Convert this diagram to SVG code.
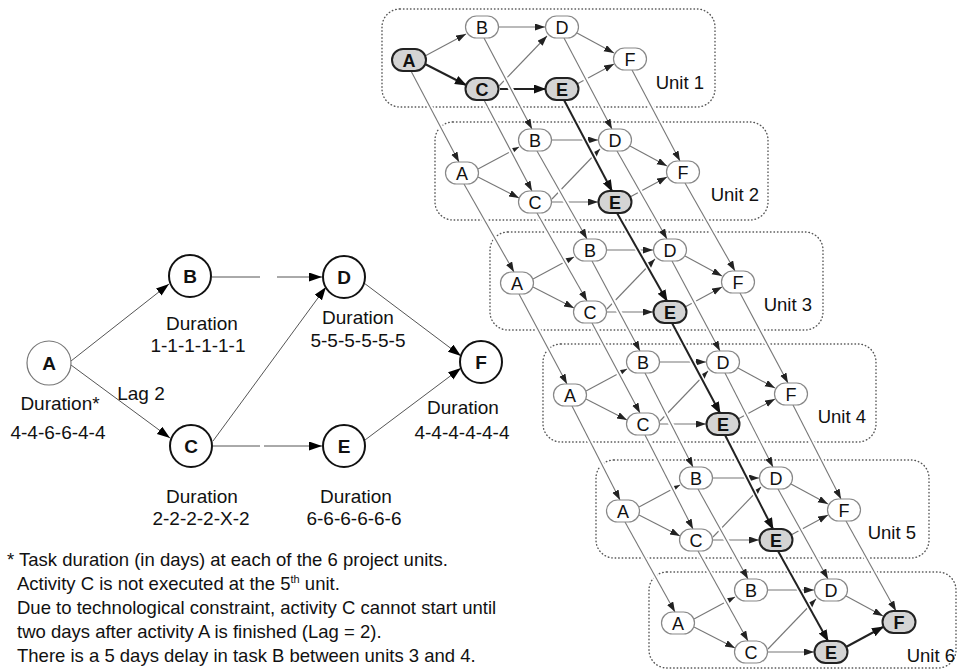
<svg xmlns="http://www.w3.org/2000/svg" width="959" height="670" viewBox="0 0 959 670">
<style>
text{font-family:"Liberation Sans",Arial,sans-serif;fill:#111}
.lbl{font-size:19px;text-anchor:middle}
.big{font-size:19px;font-weight:bold;text-anchor:middle}
.fn{font-size:18.5px}
.ut{font-size:18.5px;text-anchor:end}
.nt{font-size:18px;text-anchor:middle}
.ntb{font-size:18px;font-weight:bold;text-anchor:middle}
.circ{fill:#fff;stroke:#111;stroke-width:2}
.circA{fill:#fff;stroke:#777;stroke-width:1.2}
.le{fill:none;stroke:#555;stroke-width:1}
.lea{fill:none;stroke:#555;stroke-width:1;marker-end:url(#bigArrow)}
.box{fill:none;stroke:#555;stroke-width:1.4;stroke-dasharray:0.5 3;stroke-linecap:round}
.pill{fill:#fff;stroke:#888;stroke-width:1.2}
.crit{fill:#d4d4d4;stroke:#222;stroke-width:2}
.e{fill:none;stroke:#777;stroke-width:1.1;marker-end:url(#ah)}
.ec{fill:none;stroke:#222;stroke-width:2;marker-end:url(#ahk)}
.halo{fill:none;stroke:#fff;stroke-width:5}
</style>
<defs>
<marker id="ah" markerUnits="userSpaceOnUse" markerWidth="11" markerHeight="8" refX="10" refY="3.5" orient="auto"><path d="M0,0 L10,3.5 L0,7 z" fill="#222"/></marker>
<marker id="ahk" markerUnits="userSpaceOnUse" markerWidth="13" markerHeight="10" refX="11" refY="4.5" orient="auto"><path d="M0,0 L12,4.5 L0,9 z" fill="#111"/></marker>
<marker id="bigArrow" markerUnits="userSpaceOnUse" markerWidth="14" markerHeight="10" refX="13" refY="4.5" orient="auto"><path d="M0,0 L13,4.5 L0,9 z" fill="#000"/></marker>
</defs>
<rect width="959" height="670" fill="#fff"/>

<!-- ===== Left network ===== -->
<g id="left-connectors">
<line class="lea" x1="71" y1="361" x2="169" y2="284"/>
<line class="lea" x1="71" y1="365" x2="170" y2="438"/>
<line class="le" x1="212" y1="277" x2="260" y2="277"/>
<line class="lea" x1="277" y1="277" x2="322" y2="277"/>
<line class="lea" x1="213" y1="441" x2="326" y2="287"/>
<line class="le" x1="213" y1="446" x2="260" y2="446"/>
<line class="lea" x1="264" y1="446" x2="322" y2="446"/>
<line class="lea" x1="364" y1="283" x2="461" y2="356"/>
<line class="lea" x1="365" y1="440" x2="461" y2="368"/>
</g>
<g id="L-A"><circle class="circA" cx="49" cy="363" r="22"/><text class="big" x="49" y="370">A</text></g>
<g id="L-B"><circle class="circ" cx="190" cy="276" r="21"/><text class="big" x="190" y="283">B</text></g>
<g id="L-C"><circle class="circ" cx="191" cy="446" r="21"/><text class="big" x="191" y="453">C</text></g>
<g id="L-D"><circle class="circ" cx="344" cy="277" r="21"/><text class="big" x="344" y="284">D</text></g>
<g id="L-E"><circle class="circ" cx="344" cy="446" r="21"/><text class="big" x="344" y="453">E</text></g>
<g id="L-F"><circle class="circ" cx="481" cy="362" r="21"/><text class="big" x="481" y="369">F</text></g>

<g id="left-labels">
<text class="lbl" x="60" y="410">Duration*</text>
<text class="lbl" x="58" y="439">4-4-6-6-4-4</text>
<text class="lbl" x="141" y="400">Lag 2</text>
<text class="lbl" x="202" y="330">Duration</text>
<text class="lbl" x="198" y="352">1-1-1-1-1-1</text>
<text class="lbl" x="358" y="324">Duration</text>
<text class="lbl" x="358" y="347">5-5-5-5-5-5</text>
<text class="lbl" x="463" y="414">Duration</text>
<text class="lbl" x="462" y="439">4-4-4-4-4-4</text>
<text class="lbl" x="202" y="503">Duration</text>
<text class="lbl" x="201" y="525">2-2-2-2-X-2</text>
<text class="lbl" x="356" y="503">Duration</text>
<text class="lbl" x="354" y="525">6-6-6-6-6-6</text>
</g>

<g id="footnote">
<text class="fn" x="7" y="566">* Task duration (in days) at each of the 6 project units.</text>
<text class="fn" x="17" y="590">Activity C is not executed at the 5<tspan font-size="11" dy="-7">th</tspan><tspan dy="7"> unit.</tspan></text>
<text class="fn" x="17" y="614">Due to technological constraint, activity C cannot start until</text>
<text class="fn" x="17" y="638">two days after activity A is finished (Lag = 2).</text>
<text class="fn" x="17" y="662">There is a 5 days delay in task B between units 3 and 4.</text>
</g>

<!-- ===== Unit boxes ===== -->
<g id="unit-boxes">
<rect class="box" x="382" y="9" width="333" height="98" rx="18"/>
<rect class="box" x="435" y="122" width="333" height="98" rx="18"/>
<rect class="box" x="490" y="232" width="333" height="98" rx="18"/>
<rect class="box" x="543" y="344" width="333" height="98" rx="18"/>
<rect class="box" x="596" y="460" width="333" height="98" rx="18"/>
<rect class="box" x="649" y="572" width="307" height="96" rx="18"/>
</g>
<g id="unit-labels">
<text class="ut" x="704" y="89">Unit 1</text>
<text class="ut" x="759" y="201">Unit 2</text>
<text class="ut" x="812" y="311">Unit 3</text>
<text class="ut" x="866" y="423">Unit 4</text>
<text class="ut" x="916" y="539">Unit 5</text>
<text class="ut" x="955" y="662">Unit 6</text>
</g>

<!-- ===== Connectors ===== -->
<g id="connectors">
<g transform="translate(409,60)">
<line class="e" x1="16" y1="-4" x2="57" y2="-26"/>
<line class="ec" x1="16" y1="4" x2="57" y2="25"/>
<line class="e" x1="90" y1="-33" x2="136" y2="-33"/>
<line class="e" x1="90" y1="26" x2="138" y2="-24"/>
<line class="ec" x1="91" y1="29" x2="136" y2="29"/>
<line class="e" x1="168" y1="-27" x2="205" y2="-7"/>
<line class="e" x1="168" y1="24" x2="205" y2="4"/>
</g>
<g transform="translate(462,173)">
<line class="e" x1="16" y1="-4" x2="57" y2="-26"/>
<line class="e" x1="16" y1="4" x2="57" y2="25"/>
<line class="e" x1="90" y1="-33" x2="136" y2="-33"/>
<line class="e" x1="90" y1="26" x2="138" y2="-24"/>
<line class="e" x1="90" y1="29" x2="136" y2="29"/>
<line class="e" x1="168" y1="-27" x2="205" y2="-7"/>
<line class="e" x1="168" y1="24" x2="205" y2="4"/>
</g>
<g transform="translate(517,283)">
<line class="e" x1="16" y1="-4" x2="57" y2="-26"/>
<line class="e" x1="16" y1="4" x2="57" y2="25"/>
<line class="e" x1="90" y1="-33" x2="136" y2="-33"/>
<line class="e" x1="90" y1="26" x2="138" y2="-24"/>
<line class="e" x1="90" y1="29" x2="136" y2="29"/>
<line class="e" x1="168" y1="-27" x2="205" y2="-7"/>
<line class="e" x1="168" y1="24" x2="205" y2="4"/>
</g>
<g transform="translate(570,395)">
<line class="e" x1="16" y1="-4" x2="57" y2="-26"/>
<line class="e" x1="16" y1="4" x2="57" y2="25"/>
<line class="e" x1="90" y1="-33" x2="136" y2="-33"/>
<line class="e" x1="90" y1="26" x2="138" y2="-24"/>
<line class="e" x1="90" y1="29" x2="136" y2="29"/>
<line class="e" x1="168" y1="-27" x2="205" y2="-7"/>
<line class="e" x1="168" y1="24" x2="205" y2="4"/>
</g>
<g transform="translate(623,511)">
<line class="e" x1="16" y1="-4" x2="57" y2="-26"/>
<line class="e" x1="16" y1="4" x2="57" y2="25"/>
<line class="e" x1="90" y1="-33" x2="136" y2="-33"/>
<line class="e" x1="90" y1="26" x2="138" y2="-24"/>
<line class="e" x1="90" y1="29" x2="136" y2="29"/>
<line class="e" x1="168" y1="-27" x2="205" y2="-7"/>
<line class="e" x1="168" y1="24" x2="205" y2="4"/>
</g>
<g transform="translate(678,623)">
<line class="e" x1="16" y1="-4" x2="57" y2="-26"/>
<line class="e" x1="16" y1="4" x2="57" y2="25"/>
<line class="e" x1="90" y1="-33" x2="136" y2="-33"/>
<line class="e" x1="90" y1="26" x2="138" y2="-24"/>
<line class="e" x1="90" y1="29" x2="136" y2="29"/>
<line class="e" x1="168" y1="-27" x2="205" y2="-7"/>
<line class="ec" x1="168" y1="24" x2="205" y2="4"/>
</g>
<!-- inter-unit links: halos -->
<g class="halo">
<line x1="411" y1="71" x2="459" y2="162"/><line x1="464" y1="184" x2="514" y2="272"/><line x1="519" y1="294" x2="567" y2="384"/><line x1="572" y1="406" x2="620" y2="500"/><line x1="625" y1="522" x2="675" y2="612"/>
<line x1="484" y1="38" x2="532" y2="129"/><line x1="537" y1="151" x2="587" y2="239"/><line x1="592" y1="261" x2="640" y2="351"/><line x1="645" y1="373" x2="693" y2="467"/><line x1="698" y1="489" x2="748" y2="579"/>
<line x1="484" y1="100" x2="532" y2="191"/><line x1="537" y1="213" x2="587" y2="301"/><line x1="592" y1="323" x2="640" y2="413"/><line x1="645" y1="435" x2="693" y2="529"/><line x1="698" y1="551" x2="748" y2="641"/>
<line x1="564" y1="38" x2="612" y2="129"/><line x1="617" y1="151" x2="667" y2="239"/><line x1="672" y1="261" x2="720" y2="351"/><line x1="725" y1="373" x2="773" y2="467"/><line x1="778" y1="489" x2="828" y2="579"/>
<line x1="564" y1="100" x2="612" y2="191"/><line x1="617" y1="213" x2="667" y2="301"/><line x1="672" y1="323" x2="720" y2="413"/><line x1="725" y1="435" x2="773" y2="529"/><line x1="778" y1="551" x2="828" y2="641"/>
<line x1="632" y1="70" x2="680" y2="161"/><line x1="685" y1="183" x2="735" y2="271"/><line x1="740" y1="293" x2="788" y2="383"/><line x1="793" y1="405" x2="841" y2="499"/><line x1="846" y1="521" x2="896" y2="611"/>
</g>
<!-- inter-unit links -->
<line class="e" x1="411" y1="71" x2="459" y2="162"/><line class="e" x1="464" y1="184" x2="514" y2="272"/><line class="e" x1="519" y1="294" x2="567" y2="384"/><line class="e" x1="572" y1="406" x2="620" y2="500"/><line class="e" x1="625" y1="522" x2="675" y2="612"/>
<line class="e" x1="484" y1="38" x2="532" y2="129"/><line class="e" x1="537" y1="151" x2="587" y2="239"/><line class="e" x1="592" y1="261" x2="640" y2="351"/><line class="e" x1="645" y1="373" x2="693" y2="467"/><line class="e" x1="698" y1="489" x2="748" y2="579"/>
<line class="e" x1="484" y1="100" x2="532" y2="191"/><line class="e" x1="537" y1="213" x2="587" y2="301"/><line class="e" x1="592" y1="323" x2="640" y2="413"/><line class="e" x1="645" y1="435" x2="693" y2="529"/><line class="e" x1="698" y1="551" x2="748" y2="641"/>
<line class="e" x1="564" y1="38" x2="612" y2="129"/><line class="e" x1="617" y1="151" x2="667" y2="239"/><line class="e" x1="672" y1="261" x2="720" y2="351"/><line class="e" x1="725" y1="373" x2="773" y2="467"/><line class="e" x1="778" y1="489" x2="828" y2="579"/>
<line class="ec" x1="564" y1="100" x2="612" y2="191"/><line class="ec" x1="617" y1="213" x2="667" y2="301"/><line class="ec" x1="672" y1="323" x2="720" y2="413"/><line class="ec" x1="725" y1="435" x2="773" y2="529"/><line class="ec" x1="778" y1="551" x2="828" y2="641"/>
<line class="e" x1="632" y1="70" x2="680" y2="161"/><line class="e" x1="685" y1="183" x2="735" y2="271"/><line class="e" x1="740" y1="293" x2="788" y2="383"/><line class="e" x1="793" y1="405" x2="841" y2="499"/><line class="e" x1="846" y1="521" x2="896" y2="611"/>
</g>

<!-- ===== Unit nodes ===== -->
<g id="unit1">
<g id="u1-A" transform="translate(409,60)"><rect class="crit" x="-17" y="-11" width="34" height="22" rx="11"/><text class="ntb" y="6.5">A</text></g>
<g id="u1-B" transform="translate(482,27)"><rect class="pill" x="-16.5" y="-11" width="33" height="22" rx="11"/><text class="nt" y="6.5">B</text></g>
<g id="u1-C" transform="translate(482,89)"><rect class="crit" x="-16.5" y="-11" width="33" height="22" rx="11"/><text class="ntb" y="6.5">C</text></g>
<g id="u1-D" transform="translate(562,27)"><rect class="pill" x="-16.5" y="-11" width="33" height="22" rx="11"/><text class="nt" y="6.5">D</text></g>
<g id="u1-E" transform="translate(562,89)"><rect class="crit" x="-16.5" y="-11" width="33" height="22" rx="11"/><text class="ntb" y="6.5">E</text></g>
<g id="u1-F" transform="translate(630,59)"><rect class="pill" x="-16.5" y="-11" width="33" height="22" rx="11"/><text class="nt" y="6.5">F</text></g>
</g>
<g id="unit2">
<g id="u2-A" transform="translate(462,173)"><rect class="pill" x="-16.5" y="-11" width="33" height="22" rx="11"/><text class="nt" y="6.5">A</text></g>
<g id="u2-B" transform="translate(535,140)"><rect class="pill" x="-16.5" y="-11" width="33" height="22" rx="11"/><text class="nt" y="6.5">B</text></g>
<g id="u2-C" transform="translate(535,202)"><rect class="pill" x="-16.5" y="-11" width="33" height="22" rx="11"/><text class="nt" y="6.5">C</text></g>
<g id="u2-D" transform="translate(615,140)"><rect class="pill" x="-16.5" y="-11" width="33" height="22" rx="11"/><text class="nt" y="6.5">D</text></g>
<g id="u2-E" transform="translate(615,202)"><rect class="crit" x="-16.5" y="-11" width="33" height="22" rx="11"/><text class="ntb" y="6.5">E</text></g>
<g id="u2-F" transform="translate(683,172)"><rect class="pill" x="-16.5" y="-11" width="33" height="22" rx="11"/><text class="nt" y="6.5">F</text></g>
</g>
<g id="unit3">
<g id="u3-A" transform="translate(517,283)"><rect class="pill" x="-16.5" y="-11" width="33" height="22" rx="11"/><text class="nt" y="6.5">A</text></g>
<g id="u3-B" transform="translate(590,250)"><rect class="pill" x="-16.5" y="-11" width="33" height="22" rx="11"/><text class="nt" y="6.5">B</text></g>
<g id="u3-C" transform="translate(590,312)"><rect class="pill" x="-16.5" y="-11" width="33" height="22" rx="11"/><text class="nt" y="6.5">C</text></g>
<g id="u3-D" transform="translate(670,250)"><rect class="pill" x="-16.5" y="-11" width="33" height="22" rx="11"/><text class="nt" y="6.5">D</text></g>
<g id="u3-E" transform="translate(670,312)"><rect class="crit" x="-16.5" y="-11" width="33" height="22" rx="11"/><text class="ntb" y="6.5">E</text></g>
<g id="u3-F" transform="translate(738,282)"><rect class="pill" x="-16.5" y="-11" width="33" height="22" rx="11"/><text class="nt" y="6.5">F</text></g>
</g>
<g id="unit4">
<g id="u4-A" transform="translate(570,395)"><rect class="pill" x="-16.5" y="-11" width="33" height="22" rx="11"/><text class="nt" y="6.5">A</text></g>
<g id="u4-B" transform="translate(643,362)"><rect class="pill" x="-16.5" y="-11" width="33" height="22" rx="11"/><text class="nt" y="6.5">B</text></g>
<g id="u4-C" transform="translate(643,424)"><rect class="pill" x="-16.5" y="-11" width="33" height="22" rx="11"/><text class="nt" y="6.5">C</text></g>
<g id="u4-D" transform="translate(723,362)"><rect class="pill" x="-16.5" y="-11" width="33" height="22" rx="11"/><text class="nt" y="6.5">D</text></g>
<g id="u4-E" transform="translate(723,424)"><rect class="crit" x="-16.5" y="-11" width="33" height="22" rx="11"/><text class="ntb" y="6.5">E</text></g>
<g id="u4-F" transform="translate(791,394)"><rect class="pill" x="-16.5" y="-11" width="33" height="22" rx="11"/><text class="nt" y="6.5">F</text></g>
</g>
<g id="unit5">
<g id="u5-A" transform="translate(623,511)"><rect class="pill" x="-16.5" y="-11" width="33" height="22" rx="11"/><text class="nt" y="6.5">A</text></g>
<g id="u5-B" transform="translate(696,478)"><rect class="pill" x="-16.5" y="-11" width="33" height="22" rx="11"/><text class="nt" y="6.5">B</text></g>
<g id="u5-C" transform="translate(696,540)"><rect class="pill" x="-16.5" y="-11" width="33" height="22" rx="11"/><text class="nt" y="6.5">C</text></g>
<g id="u5-D" transform="translate(776,478)"><rect class="pill" x="-16.5" y="-11" width="33" height="22" rx="11"/><text class="nt" y="6.5">D</text></g>
<g id="u5-E" transform="translate(776,540)"><rect class="crit" x="-16.5" y="-11" width="33" height="22" rx="11"/><text class="ntb" y="6.5">E</text></g>
<g id="u5-F" transform="translate(844,510)"><rect class="pill" x="-16.5" y="-11" width="33" height="22" rx="11"/><text class="nt" y="6.5">F</text></g>
</g>
<g id="unit6">
<g id="u6-A" transform="translate(678,623)"><rect class="pill" x="-16.5" y="-11" width="33" height="22" rx="11"/><text class="nt" y="6.5">A</text></g>
<g id="u6-B" transform="translate(751,590)"><rect class="pill" x="-16.5" y="-11" width="33" height="22" rx="11"/><text class="nt" y="6.5">B</text></g>
<g id="u6-C" transform="translate(751,652)"><rect class="pill" x="-16.5" y="-11" width="33" height="22" rx="11"/><text class="nt" y="6.5">C</text></g>
<g id="u6-D" transform="translate(831,590)"><rect class="pill" x="-16.5" y="-11" width="33" height="22" rx="11"/><text class="nt" y="6.5">D</text></g>
<g id="u6-E" transform="translate(831,652)"><rect class="crit" x="-16.5" y="-11" width="33" height="22" rx="11"/><text class="ntb" y="6.5">E</text></g>
<g id="u6-F" transform="translate(899,622)"><rect class="crit" x="-16.5" y="-11" width="33" height="22" rx="11"/><text class="ntb" y="6.5">F</text></g>
</g>
</svg>
